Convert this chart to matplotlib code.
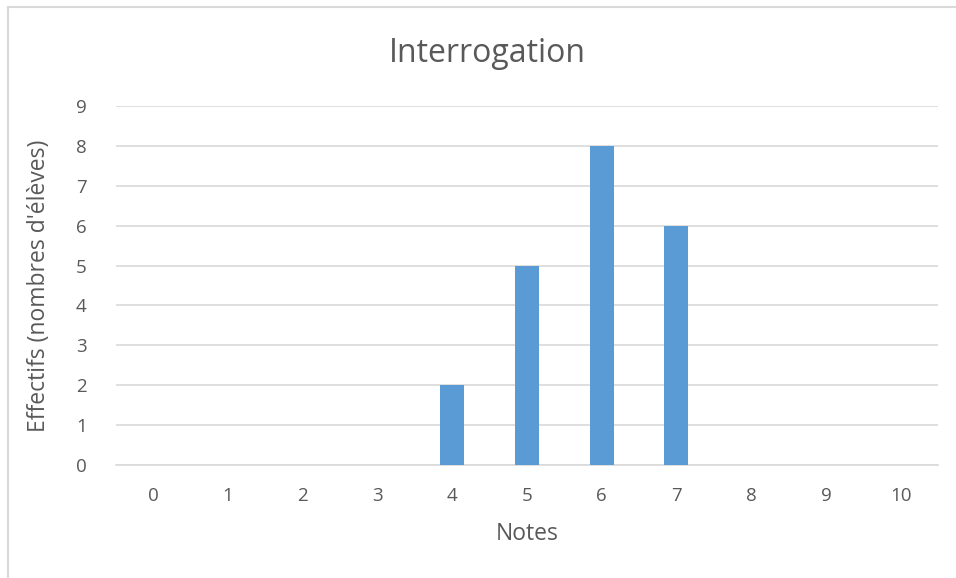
import matplotlib.pyplot as plt
from matplotlib.lines import Line2D

notes = [0, 1, 2, 3, 4, 5, 6, 7, 8, 9, 10]
effectifs = [0, 0, 0, 0, 2, 5, 8, 6, 0, 0, 0]

plt.rcParams['font.family'] = ['Open Sans', 'DejaVu Sans']
grey = '#595959'

fig = plt.figure(figsize=(9.56, 5.78), dpi=100)
ax = fig.add_axes([116/956, 1 - 465/578, 822/956, 359/578])

ax.bar(notes, effectifs, width=0.32, color='#5b9bd5', zorder=3)
ax.set_xlim(-0.5, 10.5)
ax.set_ylim(0, 9)
ax.set_yticks(range(10))
ax.set_xticks(notes)
ax.grid(axis='y', color='#d9d9d9', linewidth=1.2, zorder=0)
for s in ['top', 'right', 'left']:
    ax.spines[s].set_visible(False)
ax.spines['bottom'].set_color('#d9d9d9')
ax.spines['bottom'].set_linewidth(1.2)
ax.tick_params(length=0, labelsize=13.5, colors=grey)
ax.tick_params(axis='x', pad=16)
ax.tick_params(axis='y', pad=21)

fig.text(487/956, 1 - 53/578, 'Interrogation', fontsize=23, color=grey,
         ha='center', va='center')
ax.set_xlabel('Notes', fontsize=16.5, color=grey, labelpad=12)
ax.set_ylabel("Effectifs (nombres d'élèves)", fontsize=16.5, color=grey, labelpad=18)

# chart border (top and left visible)
fig.add_artist(Line2D([8/956, 8/956], [0, 1 - 7/578], color='#d9d9d9', linewidth=1.5))
fig.add_artist(Line2D([8/956, 1], [1 - 7/578, 1 - 7/578], color='#d9d9d9', linewidth=1.5))

fig.savefig('out.png', dpi=100)
